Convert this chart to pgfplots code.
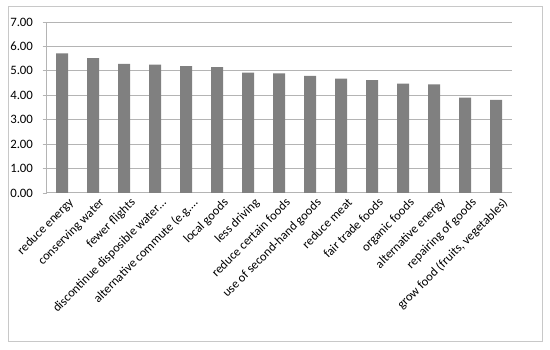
\documentclass[border=0pt]{standalone}
\usepackage{pgfplots}
\pgfplotsset{compat=1.18}
\usepackage{fontspec}
\setmainfont{Carlito}
\definecolor{barc}{HTML}{808080}
\definecolor{gridc}{HTML}{B4B4B4}
\definecolor{framec}{HTML}{C8C8C8}
\begin{document}
\begin{tikzpicture}
\fill[white] (0pt,0pt) rectangle (550pt,350pt);
\draw[framec, line width=1pt] (8pt,8pt) rectangle (542pt,343pt);
\begin{axis}[
  at={(62pt,157pt)}, anchor=origin,
  scale only axis, width=465pt, height=171pt,
  ymin=0, ymax=7, ytick={0,1,...,7},
  xmin=-0.5, xmax=14.5,
  xtick={0,...,14},
  xticklabels={reduce energy, conserving water, fewer flights, discontinue disposible water\ldots, alternative commute (e.g.\ldots, local goods, less driving, reduce certain foods, use of second-hand goods, reduce meat, fair trade foods, organic foods, alternative energy, repairing of goods, {grow food (fruits, vegetables)}},
  extra x ticks={-0.5,0.5,...,14.5}, extra x tick labels={},
  extra x tick style={major tick length=5pt, tick style={gridc, line width=0.8pt}, grid=none},
  major x tick style={draw=none},
  xticklabel style={rotate=45, anchor=north east, inner sep=1pt, font=\fontsize{12.6}{14}\selectfont, xshift=5pt, yshift=-3pt},
  yticklabel style={font=\fontsize{12.8}{14}\selectfont, xshift=-6pt},
  /pgf/number format/assume math mode=true,
  yticklabel={\pgfmathprintnumber[fixed, fixed zerofill, precision=2]{\tick}},
  ymajorgrids, grid style={gridc, line width=1pt},
  axis x line*=bottom, axis y line*=left,
  axis line style={gridc, line width=1pt, -},
  y tick style={gridc, line width=0.8pt},
  major tick length=4pt,
  tick align=outside,
  ybar, bar width=12pt,
]
\addplot[fill=barc, draw=none] coordinates {
(0,5.72) (1,5.52) (2,5.29) (3,5.26) (4,5.19) (5,5.15) (6,4.93) (7,4.90)
(8,4.79) (9,4.68) (10,4.62) (11,4.48) (12,4.45) (13,3.90) (14,3.81)};
\end{axis}
\end{tikzpicture}
\end{document}
